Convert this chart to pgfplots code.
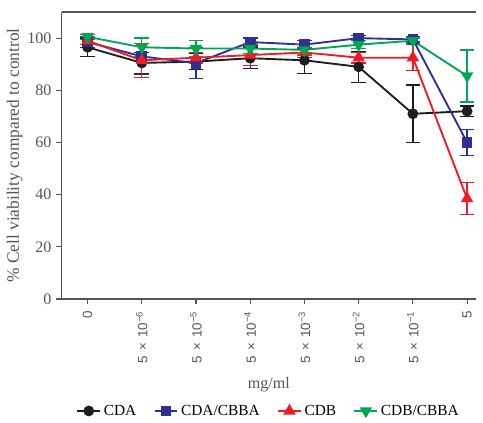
\documentclass[border=0pt]{standalone}
\usepackage{pgfplots}
\pgfplotsset{compat=1.18}
\usepackage{pgfplotstable}
\usepackage{fontspec}
\setmainfont{Liberation Serif}
\newfontfamily\sansf{Liberation Sans}
\definecolor{cda}{HTML}{1E1E1E}
\definecolor{cdacbba}{HTML}{2E3192}
\definecolor{cdb}{HTML}{ED1C24}
\definecolor{cdbcbba}{HTML}{00A651}
\definecolor{axgray}{HTML}{555555}
\newcommand{\fivex}[1]{5\hspace{4pt}×\hspace{4pt}10\textsuperscript{−#1}}

\pgfplotstableread{
x y e
0 96.5 3.5
1 90.5 4
2 91 3
3 92.3 4
4 91.5 5
5 89 6
6 71 11
7 72 2
}\CDA
\pgfplotstableread{
x y e
0 98.5 2
1 93 7
2 90.4 6
3 98.5 1.5
4 97.5 1.5
5 100 1
6 99.5 1
7 60 5
}\CDACBBA
\pgfplotstableread{
x y e
0 99 1.5
1 91.5 6.5
2 92.5 2
3 93.5 4
4 94.5 2
5 92.5 2
6 92.5 5
7 38.5 6.2
}\CDB
\pgfplotstableread{
x y e
0 100.5 1
1 96.5 3.5
2 96 3
3 96 2
4 95.5 2
5 97.5 1.5
6 99 1
7 85.5 10
}\CDBCBBA

\begin{document}
\begin{tikzpicture}
\begin{axis}[
  scale only axis,
  width=310pt, height=214.5pt,
  xmin=-0.48, xmax=7.17,
  ymin=0, ymax=110,
  axis x line=box, axis y line=left,
  axis line style={-, draw=axgray, line width=1pt},
  xtick pos=bottom, ytick pos=left,
  tick align=outside,
  major tick length=4pt,
  tick style={draw=axgray, line width=0.8pt},
  xtick={0,1,2,3,4,5,6,7},
  xticklabels={0, \fivex{6}, \fivex{5}, \fivex{4}, \fivex{3}, \fivex{2}, \fivex{1}, 5},
  xticklabel style={font=\sansf\fontsize{10}{11}\selectfont, text=axgray, rotate=90, anchor=east, inner sep=5pt},
  ytick={0,20,40,60,80,100},
  yticklabel style={font=\fontsize{12}{13}\selectfont, text=axgray},
  /pgf/number format/assume math mode=true,
  xlabel={mg/ml},
  xlabel style={font=\fontsize{12}{13}\selectfont, text=axgray, at={(axis description cs:0.5,-0.30)}, anchor=center},
  ylabel={\% Cell viability compared to control},
  ylabel style={font=\fontsize{13}{14}\selectfont, text=axgray, at={(axis description cs:-0.113,0.5)}, anchor=center},
  legend columns=4,
  legend style={draw=none, fill=none, at={(0.5,-0.39)}, anchor=center, font=\fontsize{11.5}{13}\selectfont,
    /tikz/every even column/.append style={column sep=11pt}},
  legend cell align=left,
  every axis plot/.append style={line width=1.4pt},
  error bars/y dir=both, error bars/y explicit,
  error bars/error bar style={line width=1pt},
  error bars/error mark options={rotate=90, mark size=5.5pt, line width=1pt},
]
\addplot[cda, mark=*, mark size=3.3pt] table[x=x, y=y, y error=e] {\CDA};
\addlegendentry{CDA}
\addplot[cdacbba, mark=square*, mark size=3.3pt] table[x=x, y=y, y error=e] {\CDACBBA};
\addlegendentry{CDA/CBBA}
\addplot[cdb, mark=triangle*, mark size=4pt] table[x=x, y=y, y error=e] {\CDB};
\addlegendentry{CDB}
\addplot[cdbcbba, mark=triangle*, mark options={rotate=180}, mark size=4pt] table[x=x, y=y, y error=e] {\CDBCBBA};
\addlegendentry{CDB/CBBA}
\path (rel axis cs:0,1) ++(-46pt,9pt) coordinate (tl);
\path (rel axis cs:1,0) ++(5pt,-90pt) coordinate (br);
\end{axis}
\path (tl) (br);
\end{tikzpicture}
\end{document}
